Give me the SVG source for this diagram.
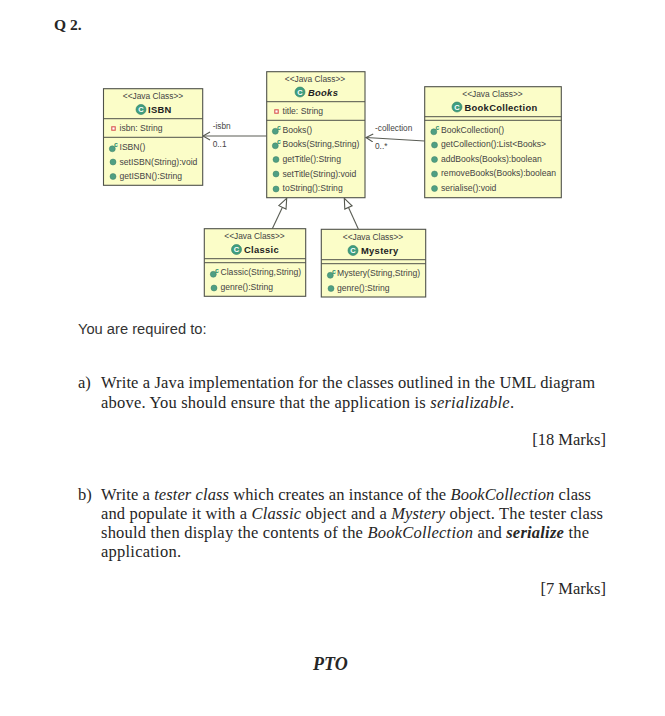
<svg xmlns="http://www.w3.org/2000/svg" width="665" height="716" viewBox="0 0 665 716">
<defs>
<marker id="open" markerWidth="10" markerHeight="10" refX="8.500" refY="4.500" orient="auto" markerUnits="userSpaceOnUse"><path d="M1.500 .5L8.500 4.500L1.500 8.500" fill="none" stroke="#55584f" stroke-width="1.1"/></marker>
<marker id="tri" markerWidth="12" markerHeight="12" refX="11" refY="5" orient="auto" markerUnits="userSpaceOnUse"><path d="M1 1L11 5L1 9Z" fill="#fff" stroke="#55584f" stroke-width="1.1"/></marker>
<g id="m"><circle cx="0" cy="0" r="3" fill="#4f9f83" stroke="#3d8069" stroke-width=".5"/></g>
<g id="ctor"><circle cx="-.7" cy="1.300" r="3" fill="#4f9f83" stroke="#3d8069" stroke-width=".5"/><text x="1" y="-.4" class="cc">c</text></g>
<g id="cls"><circle cx="0" cy="0" r="5" fill="#3f9e80" stroke="#2f7d65" stroke-width=".6"/><text x="0" y="2.800" text-anchor="middle" class="cg">C</text></g>
<g id="attr"><rect x="-1.700" y="-1.700" width="3.400" height="3.400" fill="#fff" stroke="#d9534f" stroke-width="1.100"/></g>
</defs>
<style>
text{font-family:"Liberation Sans",Arial,sans-serif}
.box{fill:#fbfdc8;stroke:#4f524a;stroke-width:1.1}
.div{stroke:#4f524a;stroke-width:1;fill:none}
.t{font-size:8.600px;fill:#444}
.st{font-size:8.400px;fill:#444;text-anchor:middle}
.n{font-size:9.400px;font-weight:bold;fill:#222;letter-spacing:.3px}
.cc{font-size:7px;font-weight:bold;fill:#2f8f6f}
.cg{font-size:7.500px;font-weight:bold;fill:#fff}
.l{font-size:8.300px;fill:#444}
.c{stroke:#5a5d55;stroke-width:1.1;fill:none}
.b{font-family:"Liberation Serif","Times New Roman",serif;font-size:16.500px;fill:#262626}
.s{font-family:"Liberation Sans",Arial,sans-serif;font-size:14.700px;fill:#333}
</style>
<rect width="665" height="716" fill="#fff"/>
<text x="54" y="30" class="b" style="font-weight:bold;font-size:15.500px">Q 2.</text>

<g id="connectors">
<path class="c" d="M266.700 136L203 136" marker-end="url(#open)"/>
<path class="c" d="M424.700 141L366 137.500" marker-end="url(#open)"/>
<path class="c" d="M272.300 228.700L286.700 198.300" marker-end="url(#tri)"/>
<path class="c" d="M358.300 229L344.300 198.300" marker-end="url(#tri)"/>
<text class="l" x="212.700" y="129">-isbn</text><text class="l" x="212.700" y="147">0..1</text>
<text class="l" x="375" y="131">-collection</text><text class="l" x="375" y="149">0..*</text>
</g>

<g id="node-isbn">
<rect class="box" x="103.500" y="88.700" width="99.200" height="96.600"/>
<path class="div" d="M103.500 118.700H202.700M103.500 137.300H202.700"/>
<text class="st" x="153" y="99">&lt;&lt;Java Class&gt;&gt;</text>
<use href="#cls" x="141" y="109.500"/><text class="n" x="148" y="113">ISBN</text>
<use href="#attr" x="113.500" y="128.500"/><text class="t" x="119.500" y="131">isbn: String</text>
<use href="#ctor" x="113" y="147.500"/><text class="t" x="119.500" y="149.500">ISBN()</text>
<use href="#m" x="113" y="162"/><text class="t" x="119.500" y="164.500">setISBN(String):void</text>
<use href="#m" x="113" y="176.500"/><text class="t" x="119.500" y="179">getISBN():String</text>
</g>

<g id="node-books">
<rect class="box" x="266.700" y="71.700" width="98.300" height="126"/>
<path class="div" d="M266.700 101.700H365M266.700 120.300H365"/>
<text class="st" x="315" y="81.500">&lt;&lt;Java Class&gt;&gt;</text>
<use href="#cls" x="300" y="92"/><text class="n" x="308" y="95.500" style="font-style:italic">Books</text>
<use href="#attr" x="276.500" y="111.500"/><text class="t" x="282.500" y="114">title: String</text>
<use href="#ctor" x="276" y="130"/><text class="t" x="282.500" y="132.500">Books()</text>
<use href="#ctor" x="276" y="144.500"/><text class="t" x="282.500" y="147">Books(String,String)</text>
<use href="#m" x="276" y="159.500"/><text class="t" x="282.500" y="162">getTitle():String</text>
<use href="#m" x="276" y="174"/><text class="t" x="282.500" y="176.500">setTitle(String):void</text>
<use href="#m" x="276" y="189"/><text class="t" x="282.500" y="191">toString():String</text>
</g>

<g id="node-bookcollection">
<rect class="box" x="424.700" y="86.700" width="136.600" height="111"/>
<path class="div" d="M424.700 116.700H561.300M424.700 120.300H561.300"/>
<text class="st" x="492.500" y="97">&lt;&lt;Java Class&gt;&gt;</text>
<use href="#cls" x="457" y="107"/><text class="n" x="464.500" y="110.500">BookCollection</text>
<use href="#ctor" x="434.500" y="130.500"/><text class="t" x="441" y="132.500">BookCollection()</text>
<use href="#m" x="434.500" y="145"/><text class="t" x="441" y="147">getCollection():List&lt;Books&gt;</text>
<use href="#m" x="434.500" y="159.500"/><text class="t" x="441" y="161.500">addBooks(Books):boolean</text>
<use href="#m" x="434.500" y="174"/><text class="t" x="441" y="176">removeBooks(Books):boolean</text>
<use href="#m" x="434.500" y="188.500"/><text class="t" x="441" y="190.500">serialise():void</text>
</g>

<g id="node-classic">
<rect class="box" x="204.300" y="228.700" width="101.400" height="67.600"/>
<path class="div" d="M204.300 258.700H305.700M204.300 262.700H305.700"/>
<text class="st" x="254.500" y="239">&lt;&lt;Java Class&gt;&gt;</text>
<use href="#cls" x="236.500" y="249.500"/><text class="n" x="244" y="253">Classic</text>
<use href="#ctor" x="214" y="273"/><text class="t" x="220.500" y="275">Classic(String,String)</text>
<use href="#m" x="214" y="288"/><text class="t" x="220.500" y="290">genre():String</text>
</g>

<g id="node-mystery">
<rect class="box" x="321.300" y="229.300" width="104.400" height="67.700"/>
<path class="div" d="M321.300 259.700H425.700M321.300 263.700H425.700"/>
<text class="st" x="373" y="240">&lt;&lt;Java Class&gt;&gt;</text>
<use href="#cls" x="353" y="250.500"/><text class="n" x="361" y="254">Mystery</text>
<use href="#ctor" x="331" y="274"/><text class="t" x="337" y="276">Mystery(String,String)</text>
<use href="#m" x="331" y="288.500"/><text class="t" x="337" y="291">genre():String</text>
</g>

<text class="s" x="78" y="334">You are required to:</text>
<text class="b" x="78" y="388">a)</text>
<text class="b" x="101" y="388" textLength="494">Write a Java implementation for the classes outlined in the UML diagram</text>
<text class="b" x="101" y="408" textLength="413">above.  You should ensure that the application is <tspan font-style="italic">serializable</tspan>.</text>
<text class="b" x="606" y="445" text-anchor="end">[18 Marks]</text>
<text class="b" x="78" y="500">b)</text>
<text class="b" x="101" y="500" textLength="490">Write a <tspan font-style="italic">tester class</tspan> which creates an instance of the <tspan font-style="italic">BookCollection</tspan> class</text>
<text class="b" x="101" y="519" textLength="502">and populate it with a <tspan font-style="italic">Classic</tspan> object and a <tspan font-style="italic">Mystery</tspan> object.  The tester class</text>
<text class="b" x="101" y="538" textLength="488">should then display the contents of the <tspan font-style="italic">BookCollection</tspan> and <tspan font-style="italic" font-weight="bold">serialize</tspan> the</text>
<text class="b" x="101" y="557" textLength="80">application.</text>
<text class="b" x="606" y="594" text-anchor="end">[7 Marks]</text>
<text class="b" x="313" y="670" style="font-weight:bold;font-style:italic;font-size:18px">PTO</text>
</svg>
